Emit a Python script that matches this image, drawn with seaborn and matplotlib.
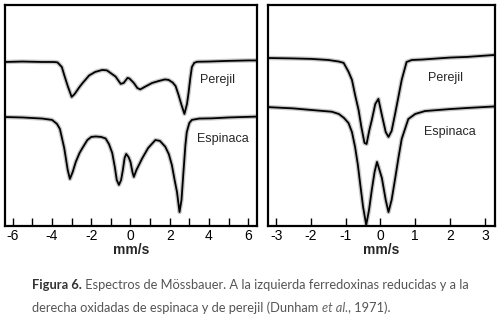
import numpy as np
import pandas as pd
import matplotlib
matplotlib.use("Agg")
import matplotlib.pyplot as plt
import seaborn as sns

# espectros (velocidad en mm/s, transmision en u.a.)
red_per_v = [-6.4, -5.5, -4.5, -3.9, -3.72, -3.5, -3.38, -3.2, -3.0, -2.85, -2.6, -2.45, -2.11, -1.8,
             -1.44, -1.2, -0.95, -0.76, -0.5, -0.35, -0.15, -0.05, 0.17, 0.35, 0.5, 0.76, 1.1, 1.44,
             1.75, 1.94, 2.15, 2.3, 2.45, 2.6, 2.75, 2.88, 2.96, 3.05, 3.13, 3.25, 3.4, 4.0, 5.0, 6.0, 6.45]
red_per_t = [74.2, 74.4, 74.2, 74.2, 74.0, 71.9, 68.3, 63.3, 58.4, 59.7, 62.9, 64.6, 68.1, 69.7,
             70.6, 70.4, 68.8, 67.6, 64.3, 64.7, 67.0, 66.7, 64.7, 62.4, 61.8, 63.1, 64.7, 65.6,
             66.3, 66.1, 64.9, 63.3, 59.3, 54.8, 50.7, 55.2, 60.2, 67.0, 71.9, 73.8, 74.3, 74.4, 74.7, 74.9, 74.9]

red_esp_v = [-6.4, -5.5, -4.5, -4.0, -3.75, -3.6, -3.38, -3.2, -3.09, -2.95, -2.79, -2.6, -2.45, -2.2,
             -2.0, -1.77, -1.5, -1.27, -1.1, -0.93, -0.8, -0.7, -0.59, -0.48, -0.39, -0.3, -0.22, -0.1,
             0.0, 0.1, 0.17, 0.3, 0.59, 0.9, 1.27, 1.5, 1.77, 1.95, 2.11, 2.25, 2.37, 2.5, 2.6, 2.7,
             2.8, 2.87, 3.0, 3.13, 3.5, 4.14, 5.0, 6.45]
red_esp_t = [49.3, 49.1, 48.6, 48.0, 46.2, 43.9, 35.3, 25.3, 21.3, 24.4, 29.0, 33.0, 35.3, 38.9,
             40.3, 40.5, 40.3, 39.6, 37.1, 33.0, 26.7, 20.8, 18.6, 20.8, 25.3, 30.8, 32.6, 31.2,
             29.0, 24.4, 22.2, 25.3, 30.5, 35.3, 38.9, 38.5, 35.9, 32.6, 27.6, 20.8, 15.4, 6.3, 11.8, 24.4,
             36.7, 42.5, 46.6, 48.0, 48.6, 48.7, 49.1, 49.5]

ox_per_v = [-3.25, -2.5, -2.0, -1.5, -1.2, -1.06, -0.92, -0.82, -0.73, -0.63, -0.55, -0.46, -0.4, -0.32,
            -0.25, -0.15, -0.06, 0.04, 0.15, 0.23, 0.32, 0.42, 0.52, 0.61, 0.75, 0.9, 1.2, 2.0, 2.5, 3.3]
ox_per_t = [76.0, 75.8, 75.6, 75.1, 74.4, 73.8, 69.8, 66.1, 59.3, 52.5, 44.8, 37.6, 37.1, 43.4,
            47.9, 55.2, 57.5, 50.2, 42.5, 40.3, 43.0, 50.7, 58.8, 66.1, 74.2, 75.1, 75.3, 76.2, 76.5, 77.4]

ox_esp_v = [-3.25, -2.5, -2.0, -1.4, -1.2, -1.05, -0.92, -0.82, -0.73, -0.65, -0.58, -0.5, -0.41, -0.33,
            -0.25, -0.17, -0.1, 0.04, 0.15, 0.23, 0.32, 0.42, 0.52, 0.61, 0.8, 1.0, 1.28, 2.0, 2.5, 3.3]
ox_esp_t = [53.8, 53.2, 52.5, 51.7, 50.7, 48.9, 46.6, 42.5, 35.7, 27.6, 18.6, 8.6, 0.5, 7.2,
            16.3, 24.4, 29.0, 21.7, 11.8, 6.3, 11.8, 21.3, 31.2, 39.4, 48.4, 50.7, 52.0, 52.9, 53.4, 54.1]

left_ticks = list(range(-6, 7))
left_labels = [str(t) if t % 2 == 0 else "" for t in left_ticks]
right_ticks = list(range(-3, 4))
right_labels = [str(t) for t in right_ticks]

sns.set_style("white")
plt.rcParams['font.family'] = ['Liberation Sans', 'DejaVu Sans']

fig = plt.figure(figsize=(5.04, 3.19), dpi=100)
ax1 = fig.add_axes([0.0099, 0.2915, 0.5, 0.693])
ax2 = fig.add_axes([0.532, 0.2915, 0.450, 0.693])

def draw(ax, v, t):
    df = pd.DataFrame({"v": v, "t": t})
    sns.lineplot(data=df, x="v", y="t", ax=ax, color="#c8c8c8", lw=3.2, sort=True)
    sns.lineplot(data=df, x="v", y="t", ax=ax, color="black", lw=1.3, sort=True)

draw(ax1, red_per_v, red_per_t)
draw(ax1, red_esp_v, red_esp_t)
draw(ax2, ox_per_v, ox_per_t)
draw(ax2, ox_esp_v, ox_esp_t)

ax1.set_xlim(-6.4, 6.45)
ax2.set_xlim(-3.23, 3.29)
for ax in (ax1, ax2):
    ax.set_ylim(0, 100)
    ax.set_yticks([])
    ax.set_ylabel("")
    ax.set_xlabel("mm/s", fontsize=10, fontweight="bold", labelpad=0)
    ax.tick_params(axis="x", direction="in", length=6, width=1, labelsize=10, pad=2,
                   bottom=True, colors="black")
    for s in ax.spines.values():
        s.set_visible(True)
        s.set_color("black")
        s.set_linewidth(1.6)

ax1.set_xticks(left_ticks)
ax1.set_xticklabels(left_labels)
ax2.set_xticks(right_ticks)
ax2.set_xticklabels(right_labels)

ax1.text(4.46, 66.1, "Perejil", fontsize=9, ha="center", va="center")
ax1.text(4.72, 39.4, "Espinaca", fontsize=9, ha="center", va="center")
ax2.text(1.88, 67.0, "Perejil", fontsize=9, ha="center", va="center")
ax2.text(1.99, 42.5, "Espinaca", fontsize=9, ha="center", va="center")

# pie de figura
cap = dict(fontsize=9.3, family=["Lato", "DejaVu Sans"])
t1 = fig.text(32 / 504, 1 - 289 / 319, "Figura 6.", fontweight="bold", color="#333333", va="baseline", **cap)
ax1.annotate(" Espectros de Mössbauer. A la izquierda ferredoxinas reducidas y a la",
             xy=(1, 0), xycoords=t1, va="bottom", ha="left", color="#555555", **cap)
t2 = fig.text(32 / 504, 1 - 312 / 319, "derecha oxidadas de espinaca y de perejil (Dunham ",
              color="#555555", va="baseline", **cap)
t3 = ax1.annotate("et al.", xy=(1, 0), xycoords=t2, va="bottom", ha="left",
                  color="#666666", style="italic", **cap)
ax1.annotate(", 1971).", xy=(1, 0), xycoords=t3, va="bottom", ha="left", color="#555555", **cap)

fig.savefig("out.png", dpi=100)
